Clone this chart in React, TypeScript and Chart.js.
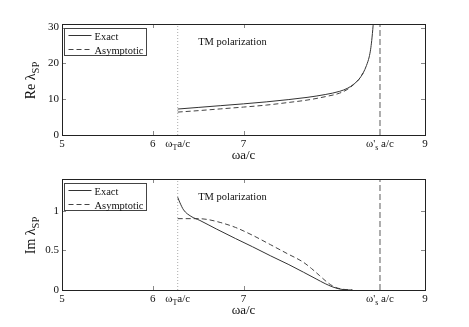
import React, { useEffect, useRef } from 'react';
import { Chart, registerables } from 'chart.js';

Chart.register(...registerables);

const FONT = "'Liberation Serif', 'Times New Roman', serif";

const omegaT = 6.275;
const omegaS = 8.504;
const xTicks = [5, 6, omegaT, 7, omegaS, 9];
const reTicks = [0, 10, 20, 30];
const imTicks = [0, 0.5, 1];
const reMax = 31;
const imMax = 1.4;

const reExactX = [6.275, 6.5, 6.75, 7.0, 7.25, 7.5, 7.7, 7.9, 8.06, 8.15, 8.21, 8.27, 8.32, 8.355, 8.385, 8.4, 8.413, 8.428, 8.44];
const reExactY = [7.25, 7.7, 8.2, 8.7, 9.25, 9.9, 10.5, 11.3, 12.2, 13.1, 14.1, 15.5, 17.4, 19.4, 21.8, 23.8, 26.4, 30.5, 34];
const reAsymX = [6.275, 6.5, 6.75, 7.0, 7.25, 7.5, 7.7, 7.9, 8.06, 8.15, 8.21, 8.27, 8.32];
const reAsymY = [6.4, 6.8, 7.3, 7.8, 8.35, 9.1, 9.75, 10.7, 11.7, 12.8, 14.0, 15.5, 17.4];

const imExactX = [6.275, 6.3, 6.34, 6.42, 6.52, 6.7, 6.91, 7.1, 7.3, 7.5, 7.66, 7.8, 7.9, 7.98, 8.05, 8.12, 8.2];
const imExactY = [1.17, 1.1, 1.01, 0.93, 0.877, 0.77, 0.65, 0.545, 0.43, 0.32, 0.225, 0.14, 0.08, 0.04, 0.015, 0.003, 0];
const imAsymX = [6.275, 6.5, 6.6, 6.75, 6.91, 7.1, 7.3, 7.48, 7.66, 7.75, 7.84, 7.92, 8.0, 8.08, 8.2];
const imAsymY = [0.9, 0.9, 0.89, 0.85, 0.79, 0.69, 0.57, 0.46, 0.35, 0.27, 0.18, 0.1, 0.04, 0.012, 0];

const seriesLabels = ['Exact', 'Asymptotic'];
const noteText = 'TM polarization';
const xTitle = 'ωa/c';

function pts(xs: number[], ys: number[]) {
  return xs.map((x, i) => ({ x, y: ys[i] }));
}

function drawSubText(
  ctx: CanvasRenderingContext2D,
  parts: { t: string; sub?: boolean }[],
  x: number,
  y: number,
  size: number,
  subSize: number,
  subShift: number,
  align: 'center' | 'left'
) {
  let total = 0;
  const widths = parts.map((p) => {
    ctx.font = `${p.sub ? subSize : size}px ${FONT}`;
    const w = ctx.measureText(p.t).width;
    total += w;
    return w;
  });
  let cx = align === 'center' ? x - total / 2 : x;
  ctx.textAlign = 'left';
  ctx.textBaseline = 'alphabetic';
  parts.forEach((p, i) => {
    ctx.font = `${p.sub ? subSize : size}px ${FONT}`;
    ctx.fillText(p.t, cx, y + (p.sub ? subShift : 0));
    cx += widths[i];
  });
}

function makeDecor(yName: string, yTickVals: number[]) {
  return {
    id: 'decor',
    afterDraw(chart: any) {
      const ctx: CanvasRenderingContext2D = chart.ctx;
      const ca = chart.chartArea;
      const xs = chart.scales.x;
      const ys = chart.scales.y;
      ctx.save();
      // inner ticks
      ctx.strokeStyle = '#888';
      ctx.lineWidth = 1;
      ctx.beginPath();
      xTicks
        .filter((v) => v !== omegaT && v !== omegaS)
        .forEach((v) => {
          const px = Math.round(xs.getPixelForValue(v)) + 0.5;
          ctx.moveTo(px, ca.top);
          ctx.lineTo(px, ca.top + 4);
          ctx.moveTo(px, ca.bottom);
          ctx.lineTo(px, ca.bottom - 4);
        });
      yTickVals.forEach((v) => {
        const py = Math.round(ys.getPixelForValue(v)) + 0.5;
        ctx.moveTo(ca.left, py);
        ctx.lineTo(ca.left + 4, py);
        ctx.moveTo(ca.right, py);
        ctx.lineTo(ca.right - 4, py);
      });
      ctx.stroke();
      // frame
      ctx.strokeStyle = '#222';
      ctx.lineWidth = 1;
      ctx.strokeRect(Math.round(ca.left) + 0.5, Math.round(ca.top) + 0.5, Math.round(ca.right - ca.left), Math.round(ca.bottom - ca.top));

      // legend
      const lx = Math.round(ca.left) + 2.5;
      const ly = Math.round(ca.top) + 4.5;
      const lw = 82;
      const lh = 27;
      ctx.fillStyle = '#fff';
      ctx.fillRect(lx, ly, lw, lh);
      ctx.strokeStyle = '#444';
      ctx.strokeRect(lx, ly, lw, lh);
      chart.data.datasets.slice(0, 2).forEach((ds: any, i: number) => {
        const yy = Math.round(ly + 6 + i * 14) + 0.5;
        ctx.beginPath();
        ctx.strokeStyle = ds.borderColor;
        ctx.lineWidth = ds.borderWidth;
        ctx.setLineDash(ds.borderDash || []);
        ctx.moveTo(lx + 4, yy);
        ctx.lineTo(lx + 27, yy);
        ctx.stroke();
        ctx.setLineDash([]);
        ctx.fillStyle = '#111';
        ctx.font = `10.5px ${FONT}`;
        ctx.textAlign = 'left';
        ctx.textBaseline = 'alphabetic';
        ctx.fillText(ds.label, lx + 30, yy + 4);
      });

      // note
      ctx.fillStyle = '#111';
      ctx.font = `10.5px ${FONT}`;
      ctx.textAlign = 'left';
      ctx.textBaseline = 'alphabetic';
      ctx.fillText(noteText, xs.getPixelForValue(6.5), ca.top + 21);

      // x title
      ctx.font = `13px ${FONT}`;
      ctx.textAlign = 'center';
      ctx.textBaseline = 'middle';
      ctx.fillText(xTitle, (ca.left + ca.right) / 2, ca.bottom + 21);

      // special tick labels
      const baseY = ca.bottom + 11.5;
      drawSubText(ctx, [{ t: 'ω' }, { t: 'T', sub: true }, { t: 'a/c' }], xs.getPixelForValue(omegaT), baseY, 11, 8, 3, 'center');
      drawSubText(ctx, [{ t: "ω'" }, { t: 's', sub: true }, { t: ' a/c' }], xs.getPixelForValue(omegaS), baseY, 11, 8, 3, 'center');

      // y title
      ctx.save();
      ctx.translate(35, (ca.top + ca.bottom) / 2 + 1);
      ctx.rotate(-Math.PI / 2);
      drawSubText(ctx, [{ t: yName }, { t: 'SP', sub: true }], 0, 0, 14, 10.5, 4, 'center');
      ctx.restore();

      ctx.restore();
    },
  };
}

function makeConfig(
  exact: { x: number; y: number }[],
  asym: { x: number; y: number }[],
  yMax: number,
  yTickVals: number[],
  yName: string,
  xAxisH: number,
  topPad: number
): any {
  return {
    type: 'line',
    data: {
      datasets: [
        {
          label: seriesLabels[0],
          data: exact,
          borderColor: '#333',
          borderWidth: 1,
          pointRadius: 0,
          cubicInterpolationMode: 'monotone',
          fill: false,
        },
        {
          label: seriesLabels[1],
          data: asym,
          borderColor: '#444',
          borderWidth: 1,
          borderDash: [5, 3],
          pointRadius: 0,
          cubicInterpolationMode: 'monotone',
          fill: false,
        },
        {
          label: 'omegaT',
          data: [
            { x: omegaT, y: 0 },
            { x: omegaT, y: yMax },
          ],
          borderColor: '#aaa',
          borderWidth: 1,
          borderDash: [1, 2],
          pointRadius: 0,
        },
        {
          label: 'omegaS',
          data: [
            { x: omegaS, y: 0 },
            { x: omegaS, y: yMax },
          ],
          borderColor: '#999',
          borderWidth: 1.6,
          borderDash: [6, 3],
          pointRadius: 0,
        },
      ],
    },
    options: {
      responsive: false,
      maintainAspectRatio: false,
      animation: false,
      devicePixelRatio: 1,
      layout: { padding: { top: topPad, right: 44, left: 0, bottom: 0 } },
      plugins: { legend: { display: false }, tooltip: { enabled: false } },
      scales: {
        x: {
          type: 'linear',
          min: 5,
          max: 9,
          grid: { display: false, drawTicks: false },
          border: { display: false },
          afterBuildTicks: (s: any) => {
            s.ticks = xTicks.map((v) => ({ value: v }));
          },
          afterFit: (s: any) => {
            s.height = xAxisH;
          },
          ticks: {
            autoSkip: false,
            maxRotation: 0,
            padding: 3,
            color: '#111',
            font: { family: FONT, size: 11 },
            callback: (v: number) => (v === omegaT || v === omegaS ? '' : String(v)),
          },
        },
        y: {
          type: 'linear',
          min: 0,
          max: yMax,
          grid: { display: false, drawTicks: false },
          border: { display: false },
          afterBuildTicks: (s: any) => {
            s.ticks = yTickVals.map((v) => ({ value: v }));
          },
          afterFit: (s: any) => {
            s.width = 62;
          },
          ticks: {
            autoSkip: false,
            padding: 3,
            color: '#111',
            font: { family: FONT, size: 11 },
            callback: (v: number) => String(v),
          },
        },
      },
    },
    plugins: [makeDecor(yName, yTickVals)],
  };
}

export default function App() {
  const ref1 = useRef<HTMLCanvasElement | null>(null);
  const ref2 = useRef<HTMLCanvasElement | null>(null);
  useEffect(() => {
    const c1 = new Chart(ref1.current as HTMLCanvasElement, makeConfig(pts(reExactX, reExactY), pts(reAsymX, reAsymY), reMax, reTicks, 'Re λ', 28, 24));
    const c2 = new Chart(ref2.current as HTMLCanvasElement, makeConfig(pts(imExactX, imExactY), pts(imAsymX, imAsymY), imMax, imTicks, 'Im λ', 37, 16));
    return () => {
      c1.destroy();
      c2.destroy();
    };
  }, []);
  return (
    <div style={{ position: 'absolute', left: 0, top: 0, width: 469, height: 327, background: '#fff' }}>
      <canvas ref={ref1} width={469} height={163} style={{ display: 'block', width: 469, height: 163 }} />
      <canvas ref={ref2} width={469} height={164} style={{ display: 'block', width: 469, height: 164 }} />
    </div>
  );
}
